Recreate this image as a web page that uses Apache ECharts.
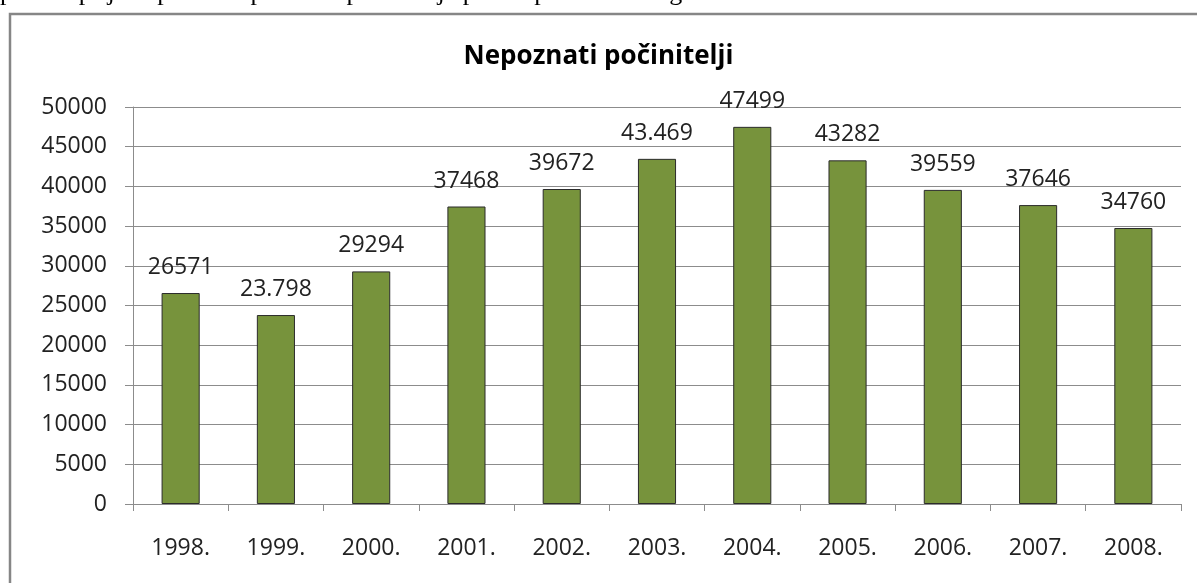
<!DOCTYPE html>
<html>
<head>
<meta charset="utf-8">
<script src="https://cdn.jsdelivr.net/npm/echarts@6/dist/echarts.min.js"></script>
<style>
html, body { margin: 0; padding: 0; background: #fff; }
#chart { width: 1197px; height: 583px; }
</style>
</head>
<body>
<div id="chart"></div>
<script>
// data
const years = ['1998.', '1999.', '2000.', '2001.', '2002.', '2003.', '2004.', '2005.', '2006.', '2007.', '2008.'];
const values = [26571, 23798, 29294, 37468, 39672, 43469, 47499, 43282, 39559, 37646, 34760];
const valueLabels = ['26571', '23.798', '29294', '37468', '39672', '43.469', '47499', '43282', '39559', '37646', '34760'];

const font = '"Open Sans", "Noto Sans", sans-serif';
const chart = echarts.init(document.getElementById('chart'));

chart.setOption({
  animation: false,
  backgroundColor: '#fff',
  title: {
    text: 'Nepoznati počinitelji',
    left: 'center',
    top: 39,
    textStyle: { fontFamily: font, fontSize: 26, fontWeight: 'bold', color: '#000' }
  },
  graphic: [
    {
      type: 'text',
      left: 0,
      top: -20,
      style: {
        text: 'padeža prijava protiv nepoznatih počinitelja prema podacima Zagreba.',
        font: '26px "Liberation Serif", serif',
        fill: '#000'
      }
    },
    {
      type: 'rect',
      shape: { x: 10, y: 14, width: 1400, height: 800 },
      style: { fill: 'none', stroke: '#868686', lineWidth: 2.5 }
    }
  ],
  grid: { left: 133, right: 16, top: 107, bottom: 79 },
  xAxis: {
    type: 'category',
    data: years,
    axisLine: { lineStyle: { color: '#8c8c8c', width: 1 } },
    axisTick: { show: true, length: 7, lineStyle: { color: '#8c8c8c' } },
    axisLabel: { margin: 33, fontFamily: font, fontSize: 23, color: '#222' }
  },
  yAxis: {
    type: 'value',
    min: 0,
    max: 50000,
    interval: 5000,
    axisLine: { show: true, lineStyle: { color: '#8c8c8c', width: 1 } },
    axisTick: { show: true, length: 8, lineStyle: { color: '#8c8c8c' } },
    splitLine: { lineStyle: { color: '#8c8c8c', width: 1 } },
    axisLabel: { margin: 26, fontFamily: font, fontSize: 23, color: '#222', formatter: v => String(v) }
  },
  series: [{
    type: 'bar',
    data: values,
    barWidth: '40%',
    itemStyle: { color: '#77933c', borderColor: '#2b2b2b', borderWidth: 1 },
    label: {
      show: true,
      position: 'top',
      distance: 14,
      fontFamily: font,
      fontSize: 23,
      color: '#222',
      formatter: p => valueLabels[p.dataIndex]
    }
  }]
});
</script>
</body>
</html>
